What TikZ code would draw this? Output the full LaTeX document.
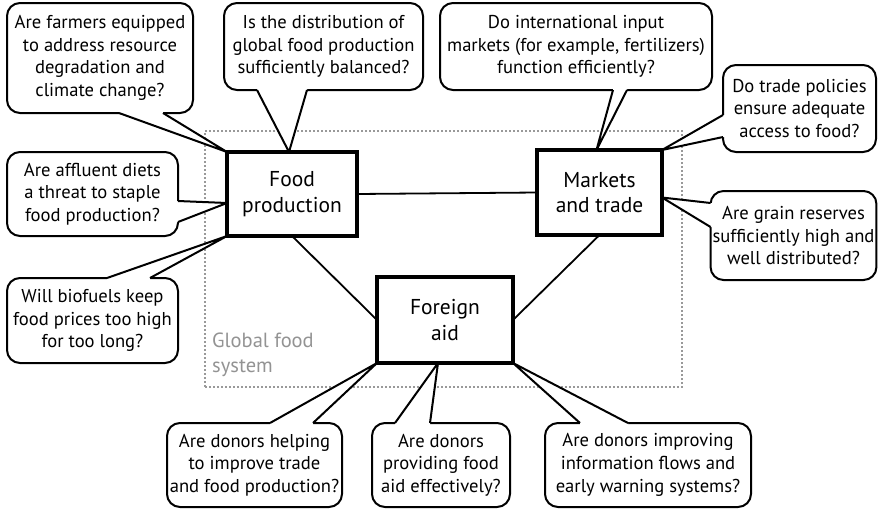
\documentclass[tikz,border=0pt]{standalone}
\usepackage{fontspec}
\setmainfont{PT Sans}
\usepackage{tikz}
\usetikzlibrary{calc}

% pointer of a speech bubble: two base points, tip, inward shift
\newcommand{\calltail}[4]{%
  \coordinate (ta) at (#1);
  \coordinate (tb) at (#2);
  \fill[white] ($(ta)+(#4)$) -- (ta) -- (#3) -- (tb) -- ($(tb)+(#4)$) -- cycle;
  \draw[tail] (ta) -- (#3) -- (tb);
}

\begin{document}
\begin{tikzpicture}[
  x=1pt, y=-1pt,
  topic/.style={
    draw, line width=3.2pt, outer sep=0pt, inner sep=2pt,
    align=center, font=\fontsize{21.5}{25.5}\selectfont
  },
  bubble/.style={
    draw, fill=white, line width=2pt, rounded corners=13pt,
    outer sep=0pt, inner sep=2pt,
    align=center, font=\fontsize{18.6}{22.7}\selectfont
  },
  tail/.style={line width=2pt, line join=round},
  link/.style={line width=1.8pt},
  sysbox/.style={draw=gray!80, line width=1.1pt, dash pattern=on 2pt off 2pt,
    outer sep=0pt},
]
  \useasboundingbox (0,0) rectangle (880,509);

  % Global food system
  \node[sysbox, minimum width=477pt, minimum height=256pt] (sys) at (443.5,259) {};
  \node[anchor=north west, align=left, text=gray!85, inner sep=0pt,
    font=\fontsize{20.5}{24.5}\selectfont] (syslbl) at (212,333) {Global food\\system};

  % Topics
  \node[topic, minimum width=130pt, minimum height=84pt] (food) at (292,194) {Food\\production};
  \node[topic, minimum width=125pt, minimum height=85pt] (mkt) at (599.5,192.5) {Markets\\and trade};
  \node[topic, minimum width=136pt, minimum height=86pt] (aid) at (445,320) {Foreign\\aid};

  \draw[link] (food.east) -- (mkt.west);
  \draw[link] (food.south) -- (aid.west);
  \draw[link] (mkt.south) -- (aid.east);

  % Questions round food production
  \node[bubble, minimum width=186pt, minimum height=110pt] (q1) at (100,58)
    {Are farmers equipped\\to address resource\\degradation and\\climate change?};
  \node[bubble, minimum width=199pt, minimum height=87pt] (q2) at (323.5,46.5)
    {Is the distribution of\\global food production\\sufficiently balanced?};
  \node[bubble, minimum width=171pt, minimum height=84pt] (q6) at (92.5,194)
    {Are affluent diets\\a threat to staple\\food production?};
  \node[bubble, minimum width=171pt, minimum height=85pt] (q7) at (92.5,320.5)
    {Will biofuels keep\\food prices too high\\for too long?};

  % Questions round markets
  \node[bubble, minimum width=272pt, minimum height=87pt] (q3) at (576,46.5)
    {Do international input\\markets (for example, fertilizers)\\function efficiently?};
  \node[bubble, minimum width=153pt, minimum height=87pt] (q4) at (799.5,108.5)
    {Do trade policies\\ensure adequate\\access to food?};
  \node[bubble, minimum width=165pt, minimum height=89pt] (q5) at (793.5,235.5)
    {Are grain reserves\\sufficiently high and\\well distributed?};

  % Questions round aid
  \node[bubble, minimum width=175pt, minimum height=84pt] (q8) at (254.5,465)
    {Are donors helping\\to improve trade\\and food production?};
  \node[bubble, minimum width=138pt, minimum height=84pt] (q9) at (441,465)
    {Are donors\\providing food\\aid effectively?};
  \node[bubble, minimum width=206pt, minimum height=84pt] (q10) at (648,465)
    {Are donors improving\\information flows and\\early warning systems?};

  % Pointers
  \calltail{$(q1.south west)+(112,0)$}{$(q1.south east)+(-30,0)$}{food.north west}{0,-3}
  \calltail{$(q2.south west)+(33,0)$}{$(q2.south west)+(83,0)$}{$(food.north)+(-3,0)$}{0,-3}
  \calltail{$(q6.north east)+(0,49)$}{$(q6.north east)+(0,70)$}{$(food.west)+(0,9)$}{-3,0}
  \calltail{$(q7.north west)+(100,0)$}{$(q7.north west)+(143,0)$}{food.south west}{0,3}
  \calltail{$(q3.south west)+(173,0)$}{$(q3.south west)+(187,0)$}{$(mkt.north)+(-3,0)$}{0,-3}
  \calltail{$(q4.west)+(0,6.5)$}{$(q4.south west)+(0,-15)$}{mkt.north east}{3,0}
  \calltail{$(q5.north west)+(0,12)$}{$(q5.north west)+(0,36)$}{$(mkt.east)+(0,5)$}{3,0}
  \calltail{$(q8.north west)+(103,0)$}{$(q8.north west)+(146,0)$}{aid.south west}{0,3}
  \calltail{$(q9.north west)+(23,0)$}{$(q9.north west)+(58,0)$}{$(aid.south)+(-7,0)$}{0,3}
  \calltail{$(q10.north west)+(35,0)$}{$(q10.north west)+(83,0)$}{aid.south east}{0,3}

\end{tikzpicture}
\end{document}
